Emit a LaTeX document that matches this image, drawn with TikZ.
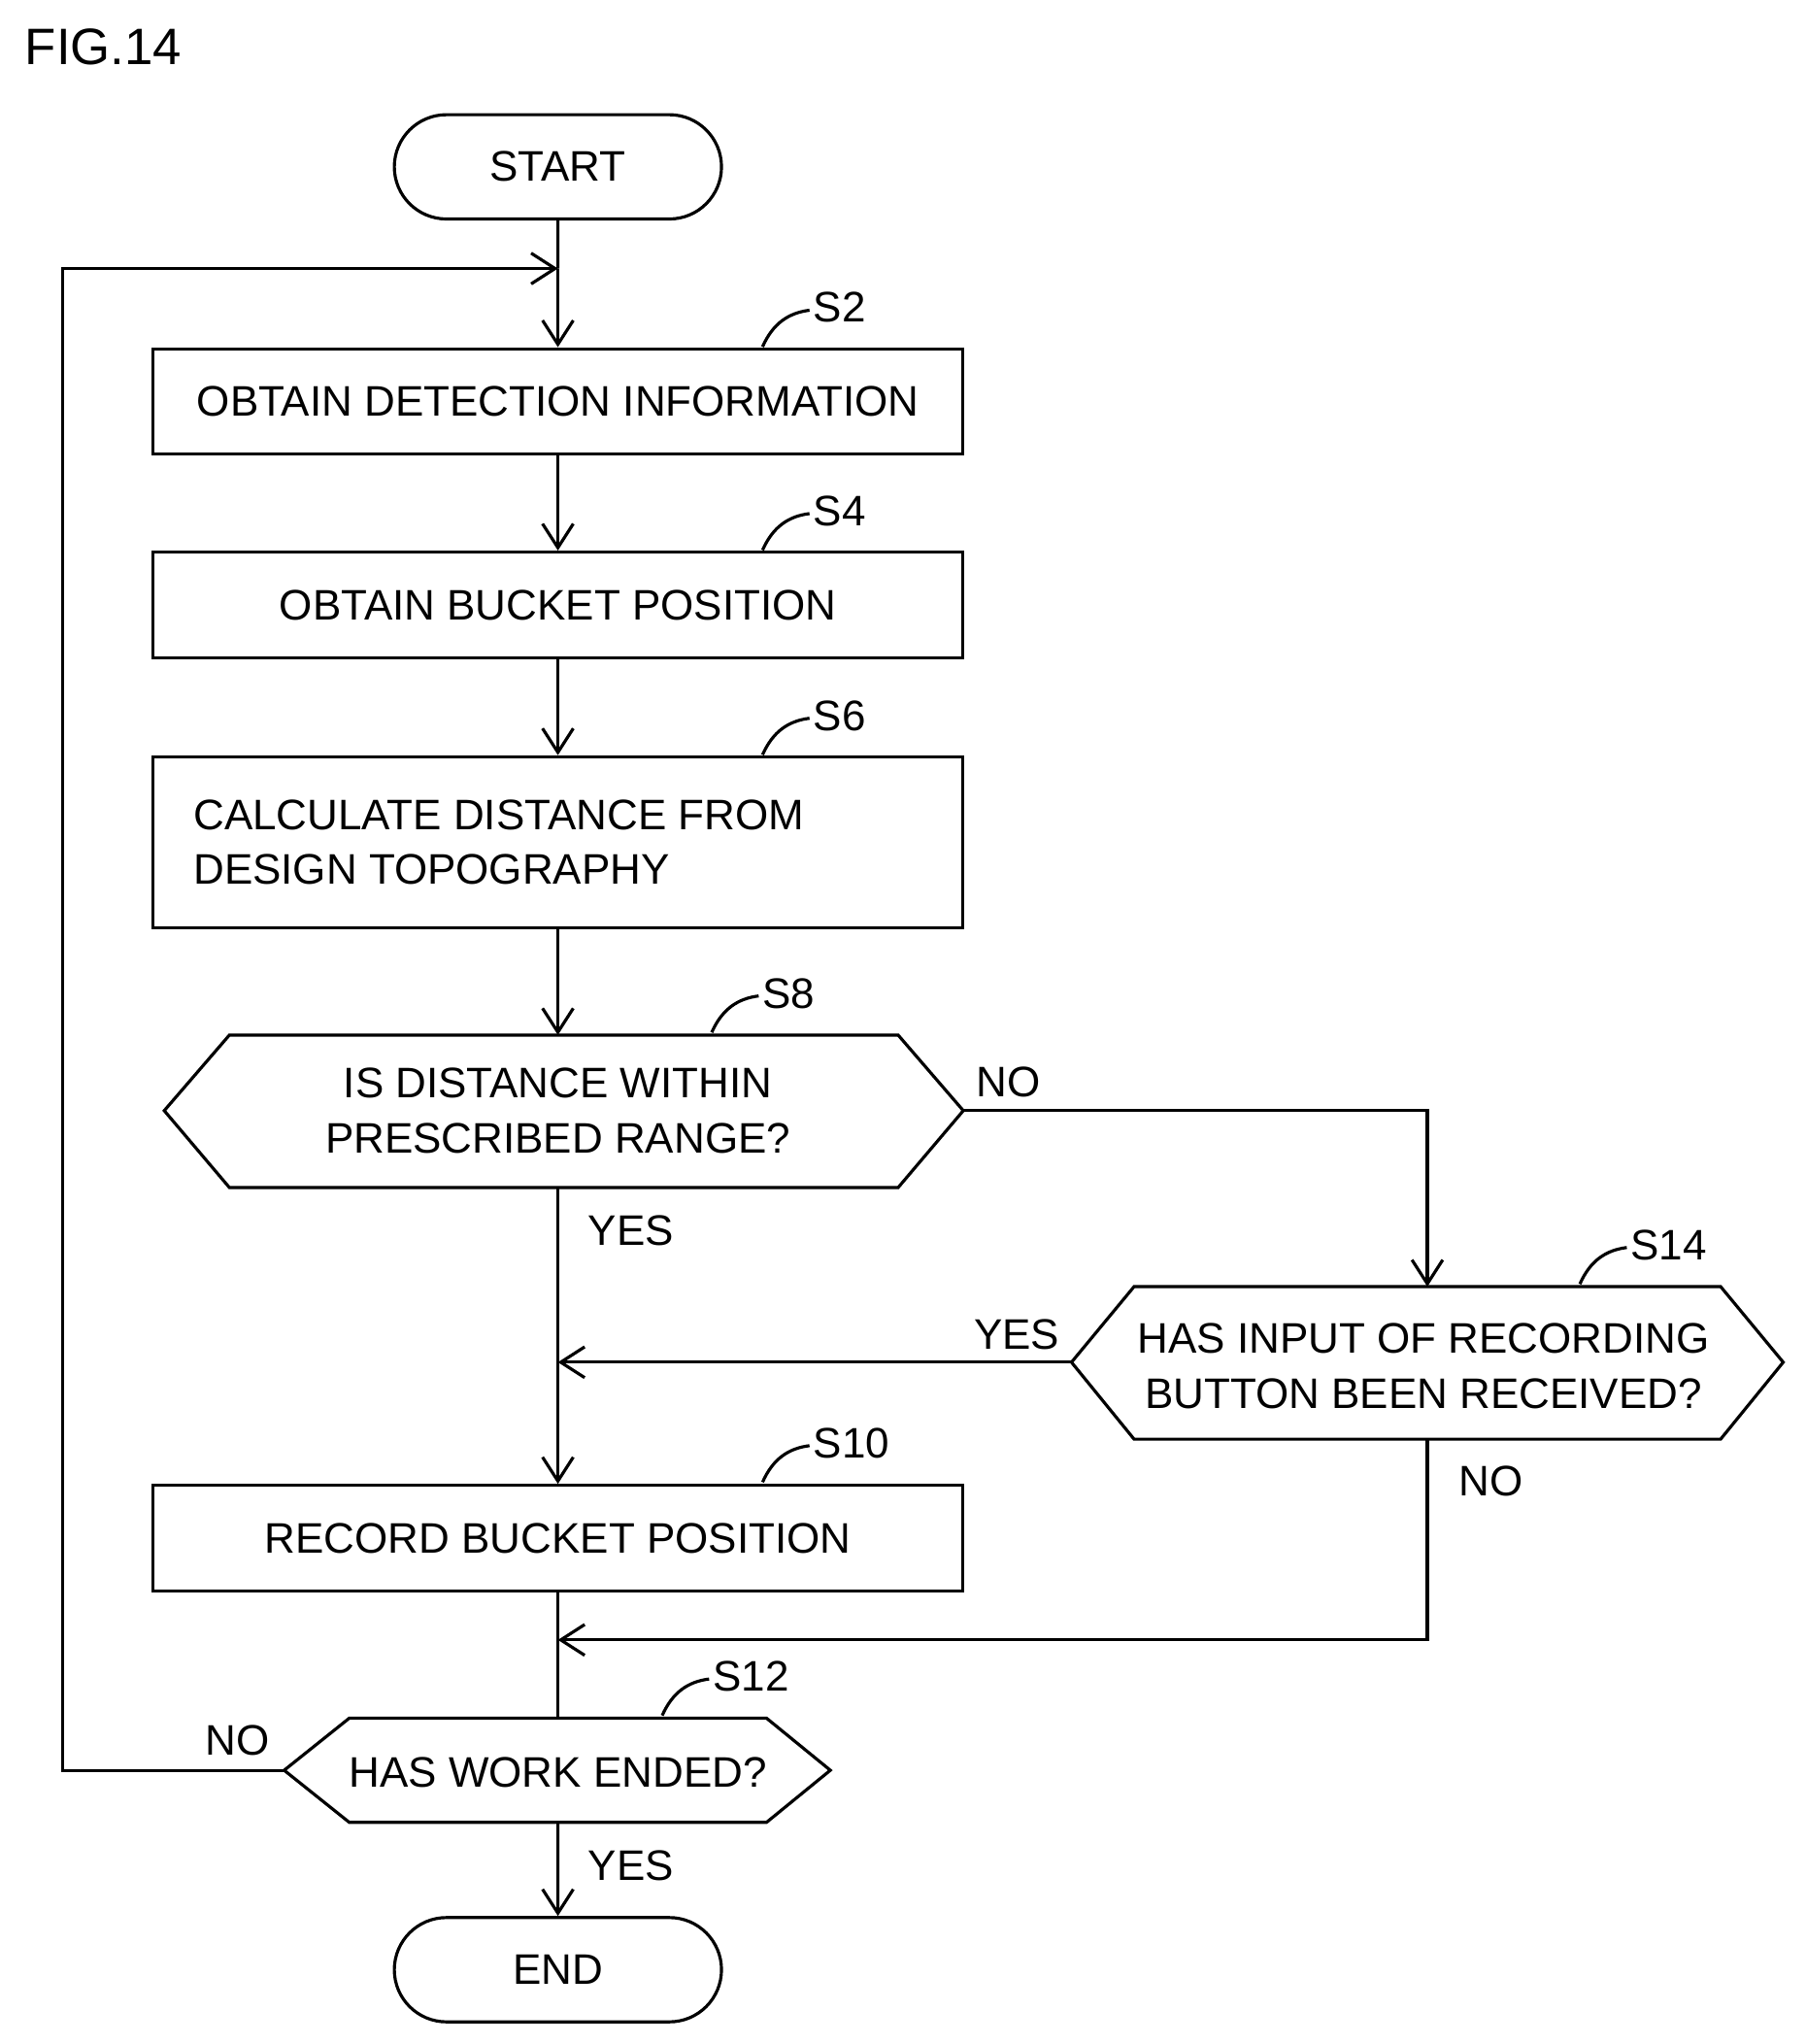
\documentclass[tikz,border=0pt]{standalone}
\usepackage{fontspec}
\setmainfont{Liberation Sans}
\usetikzlibrary{arrows.meta,shapes.misc}
\begin{document}
\begin{tikzpicture}[x=0.01342cm,y=-0.01342cm,
  every node/.style={font=\fontsize{12.5}{16}\selectfont},
  line/.style={line width=0.9pt},
  arr/.style={line,-{Straight Barb[length=7pt,width=9pt,line width=0.9pt]}},
  box/.style={line,draw,minimum width=621*0.01342cm,minimum height=81*0.01342cm,inner sep=0pt},
  term/.style={line,draw,rounded rectangle,minimum width=251*0.01342cm,minimum height=80*0.01342cm,inner sep=0pt},
  lab/.style={font=\fontsize{12.5}{16}\selectfont}]
\useasboundingbox (0,0) rectangle (1385,1568);
\node[anchor=west,font=\fontsize{15}{18}\selectfont] (fig) at (10,36) {FIG.14};
\node[term] (start) at (428,128) {START};
\node[box] (s2) at (428,308) {OBTAIN DETECTION INFORMATION};
\node[box] (s4) at (428,464) {OBTAIN BUCKET POSITION};
\node[box,minimum height=131*0.01342cm,align=left] (s6) at (428,646) {CALCULATE DISTANCE FROM\\DESIGN TOPOGRAPHY\hspace*{2.6cm}};
\node[box] (s10) at (428,1180) {RECORD BUCKET POSITION};
\node[term] (end) at (428,1511) {END};
% hexagons
\draw[line] (126,852)--(176,794)--(689,794)--(739,852)--(689,911)--(176,911)--cycle;
\node[align=center] (s8) at (428,852) {IS DISTANCE WITHIN\\PRESCRIBED RANGE?};
\coordinate (s8l) at (126,852); \coordinate (s8r) at (739,852);
\draw[line] (822,1045)--(870,987)--(1320,987)--(1368,1045)--(1320,1104)--(870,1104)--cycle;
\node[align=center] (s14) at (1092,1048) {HAS INPUT OF RECORDING\\BUTTON BEEN RECEIVED?};
\coordinate (s14t) at (1095,987); \coordinate (s14l) at (822,1045); \coordinate (s14b) at (1095,1104);
\draw[line] (218,1358)--(268,1318)--(588,1318)--(637,1358)--(588,1398)--(268,1398)--cycle;
\node (s12) at (428,1360) {HAS WORK ENDED?};
\coordinate (s12t) at (428,1318); \coordinate (s12l) at (218,1358); \coordinate (s12b) at (428,1398);
\coordinate (s8t) at (428,794); \coordinate (s8b) at (428,911);
% step labels
\foreach \x/\y/\t in {585/266/S2,585/422/S4,585/579/S6,546/792/S8,1212/985/S14,585/1137/S10,508/1316/S12}{
  \draw[line] (\x,\y) .. controls (\x+8,\y-18) and (\x+20,\y-26) .. (\x+36,\y-28);
  \node[anchor=west,inner sep=1pt] at (\x+36,\y-30) {\t};}
% connectors
\coordinate (loop) at (428,206);
\draw[line] (start) -- (loop);
\draw[arr] (loop) -- (s2);
\draw[arr] (s2) -- (s4);
\draw[arr] (s4) -- (s6);
\draw[arr] (s6) -- (s8t);
\draw[arr] (s8b) -- (s10);
\draw[arr] (s8r) -- (1095,852) -- (s14t);
\draw[arr] (s14l) -- (428,1045);
\draw[line] (s10) -- (s12t);
\draw[arr] (s14b) -- (1095,1258) -- (428,1258);
\draw[arr] (s12b) -- (end);
\draw[arr] (s12l) -- (48,1358) -- (48,206) -- (loop);
% branch labels
\node[anchor=west] at (740,830) {NO};
\node[anchor=west] at (442,944) {YES};
\node[anchor=east] at (822,1024) {YES};
\node[anchor=west] at (1110,1136) {NO};
\node[anchor=east] at (216,1335) {NO};
\node[anchor=west] at (442,1431) {YES};
\end{tikzpicture}
\end{document}
